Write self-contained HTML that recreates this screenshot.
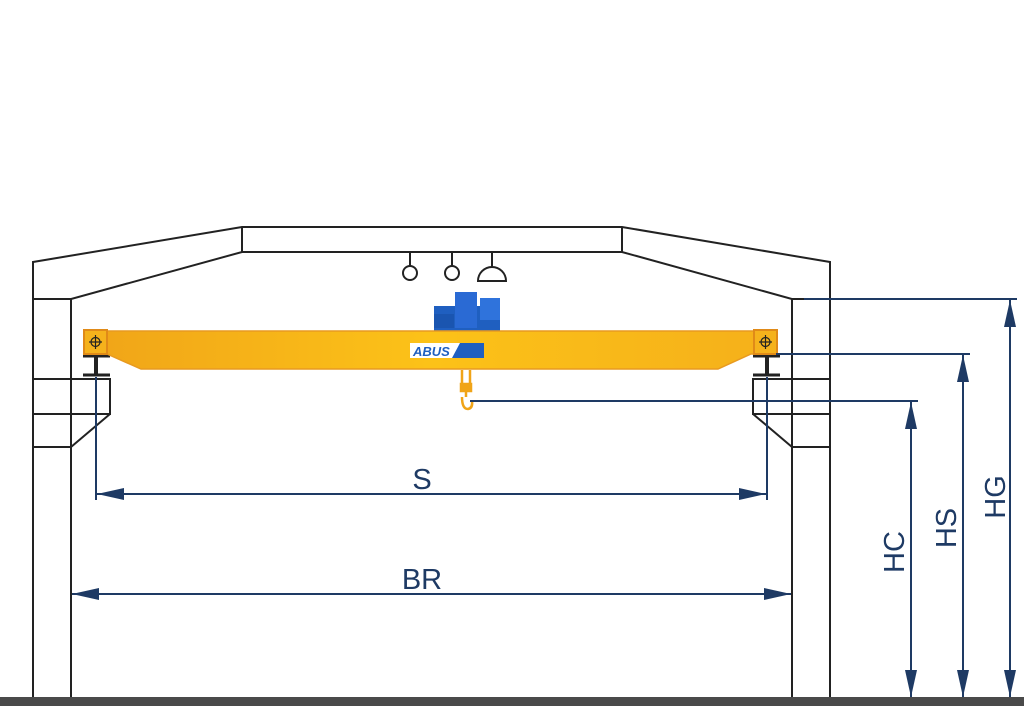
<!DOCTYPE html>
<html><head><meta charset="utf-8"><style>
html,body{margin:0;padding:0;background:#fff;}
svg{display:block;}
text{font-family:"Liberation Sans",sans-serif;fill:#1e3a64;font-size:29px;}
</style></head><body>
<svg width="1024" height="706" viewBox="0 0 1024 706" xmlns="http://www.w3.org/2000/svg">
<defs>
<linearGradient id="bm" x1="0" x2="1" y1="0" y2="0">
<stop offset="0" stop-color="#f0a418"/><stop offset="0.5" stop-color="#fcc218"/><stop offset="1" stop-color="#f5b01a"/>
</linearGradient>
</defs>
<!-- building -->
<g fill="none" stroke="#222" stroke-width="2">
<polyline points="33,697 33,262 242,227 622,227 830,262 830,697"/>
<polyline points="71,697 71,299 242,252 622,252 792,299 792,697"/>
<line x1="242" y1="227" x2="242" y2="252"/>
<line x1="622" y1="227" x2="622" y2="252"/>
<line x1="33" y1="299" x2="71" y2="299"/>
<line x1="792" y1="299" x2="830" y2="299"/>
<!-- left corbel -->
<polyline points="33,379 110,379 110,414 33,414"/>
<polyline points="110,414 71,447 33,447"/>
<!-- right corbel -->
<polyline points="830,379 753,379 753,414 830,414"/>
<polyline points="753,414 792,447 830,447"/>
<!-- lights -->
<line x1="410" y1="252" x2="410" y2="266"/>
<circle cx="410" cy="273" r="7"/>
<line x1="452" y1="252" x2="452" y2="266"/>
<circle cx="452" cy="273" r="7"/>
<line x1="492" y1="252" x2="492" y2="267"/>
<path d="M478,281 A14,14 0 0 1 506,281 Z"/>
</g>
<!-- rails -->
<g stroke="#222" stroke-width="3">
<line x1="83" y1="356" x2="110" y2="356"/><line x1="83" y1="375" x2="110" y2="375"/><line x1="96" y1="356" x2="96" y2="375" stroke-width="4"/>
<line x1="753" y1="356" x2="780" y2="356"/><line x1="753" y1="375" x2="780" y2="375"/><line x1="767" y1="356" x2="767" y2="375" stroke-width="4"/>
</g>
<!-- hoist -->
<rect x="434" y="306" width="66" height="25" fill="#1f5fc0"/>
<rect x="455" y="292" width="22" height="36" fill="#2a6ad4"/>
<rect x="480" y="298" width="20" height="22" fill="#2f73dc"/>
<rect x="434" y="314" width="20" height="14" fill="#1a55b0"/>
<!-- beam -->
<polygon points="84,331 777,331 777,354 751,354 718,369 141,369 107,354 84,354" fill="url(#bm)" stroke="#e89a20" stroke-width="1.5"/>
<rect x="84" y="330" width="23" height="24" fill="#f5b21c" stroke="#e08a18" stroke-width="2"/>
<rect x="754" y="330" width="23" height="24" fill="#f5b21c" stroke="#e08a18" stroke-width="2"/>
<g stroke="#222" stroke-width="1.2" fill="none">
<circle cx="95.5" cy="342" r="4.5"/><line x1="89" y1="342" x2="102" y2="342"/><line x1="95.5" y1="335" x2="95.5" y2="349"/>
<circle cx="765.5" cy="342" r="4.5"/><line x1="759" y1="342" x2="772" y2="342"/><line x1="765.5" y1="335" x2="765.5" y2="349"/>
</g>
<!-- logo -->
<rect x="410" y="343" width="74" height="15" fill="#fff"/>
<polygon points="460,343 484,343 484,358 452,358" fill="#1f5fc0"/>
<text x="413" y="356" style="font-size:13px;font-weight:bold;font-style:italic;fill:#1f5fc0">ABUS</text>
<!-- hook -->
<g stroke="#f0a418" stroke-width="2.5" fill="none">
<line x1="462" y1="370" x2="462" y2="386"/><line x1="470" y1="370" x2="470" y2="386"/>
<rect x="461" y="384" width="10" height="7" fill="#f0a418"/>
<path d="M466,392 L466,397 M462,397 Q462,409 468,409 Q473,408 472,401"/>
</g>
<!-- dimensions -->
<g stroke="#1e3a64" stroke-width="2" fill="none">
<line x1="804" y1="299" x2="1017" y2="299"/>
<line x1="1010" y1="300" x2="1010" y2="697"/>
<line x1="776" y1="354" x2="970" y2="354"/>
<line x1="963" y1="355" x2="963" y2="697"/>
<line x1="470" y1="401" x2="918" y2="401"/>
<line x1="911" y1="402" x2="911" y2="697"/>
<line x1="96" y1="377" x2="96" y2="500"/>
<line x1="767" y1="377" x2="767" y2="500"/>
<line x1="97" y1="494" x2="766" y2="494"/>
<line x1="72" y1="594" x2="791" y2="594"/>
</g>
<g fill="#1e3a64">
<polygon points="1010,300 1004,327 1016,327"/><polygon points="1010,697 1004,670 1016,670"/>
<polygon points="963,355 957,382 969,382"/><polygon points="963,697 957,670 969,670"/>
<polygon points="911,402 905,429 917,429"/><polygon points="911,697 905,670 917,670"/>
<polygon points="97,494 124,488 124,500"/><polygon points="766,494 739,488 739,500"/>
<polygon points="72,594 99,588 99,600"/><polygon points="791,594 764,588 764,600"/>
</g>
<text x="422" y="489" text-anchor="middle">S</text>
<text x="422" y="589" text-anchor="middle">BR</text>
<text transform="translate(904,552) rotate(-90)" text-anchor="middle">HC</text>
<text transform="translate(956,528) rotate(-90)" text-anchor="middle">HS</text>
<text transform="translate(1005,497) rotate(-90)" text-anchor="middle">HG</text>
<rect x="0" y="697" width="1024" height="9" fill="#4a4a4a"/>
</svg>
</body></html>
